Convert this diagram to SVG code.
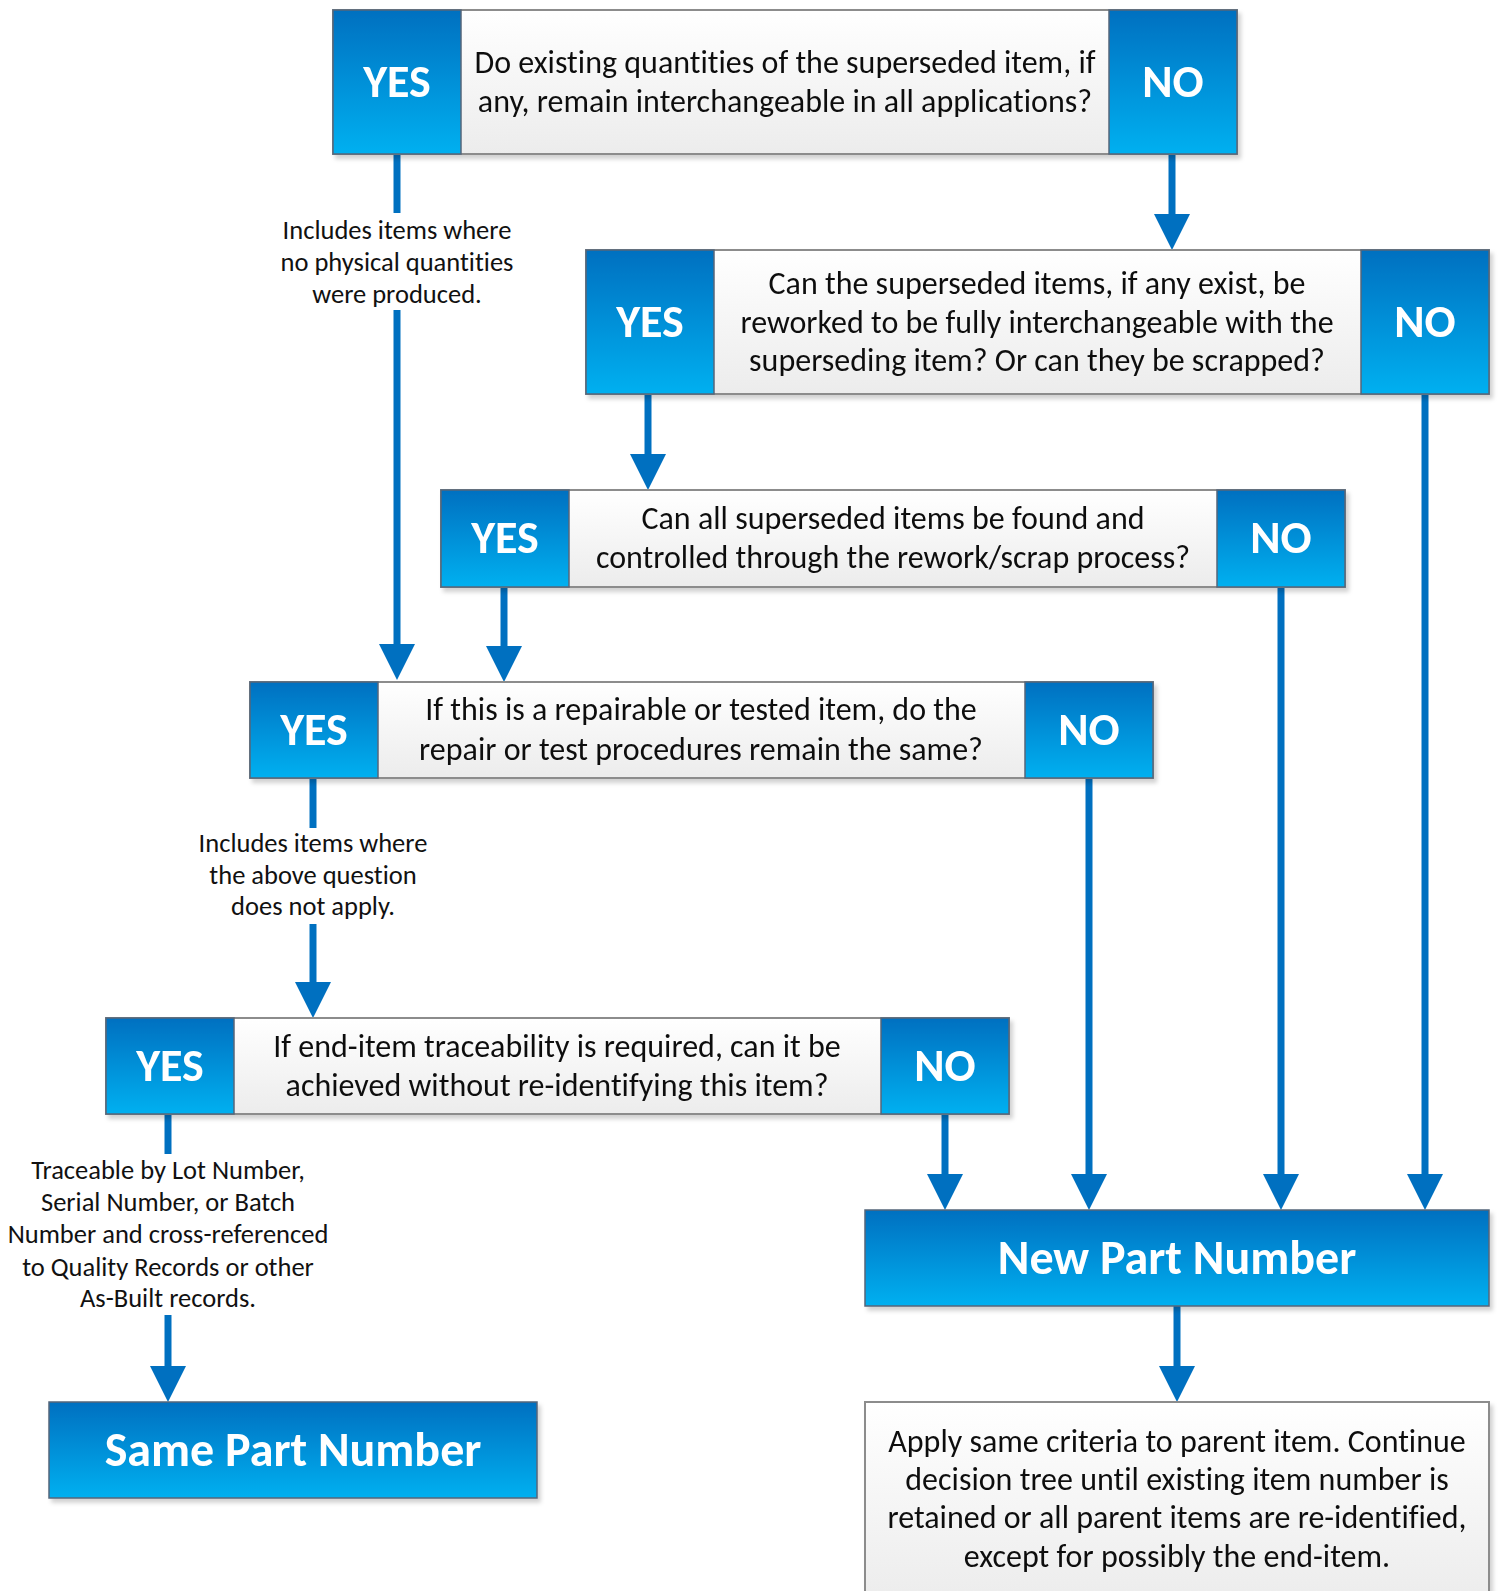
<svg xmlns="http://www.w3.org/2000/svg" width="1499" height="1591" viewBox="0 0 1499 1591">
<defs>
<linearGradient id="gBlue" x1="0" y1="0" x2="0" y2="1"><stop offset="0" stop-color="#0070c0"/><stop offset="1" stop-color="#00b0f0"/></linearGradient>
<linearGradient id="gGray" x1="0" y1="0" x2="0" y2="1"><stop offset="0" stop-color="#ffffff"/><stop offset="1" stop-color="#ececec"/></linearGradient>
<filter id="sh" x="-5%" y="-10%" width="110%" height="130%"><feDropShadow dx="3" dy="4" stdDeviation="2" flood-color="#000" flood-opacity="0.18"/></filter>
<marker id="ah" markerUnits="userSpaceOnUse" markerWidth="36" markerHeight="36" refX="0" refY="18" orient="auto" overflow="visible"><path d="M0,0 L36,18 L0,36 z" fill="#0070c0"/></marker>
<style>
text{font-variant-ligatures:none;font-family:Carlito,Calibri,Lato,sans-serif;text-anchor:middle}
.tb{fill:url(#gGray);stroke:#8c8c8c;stroke-width:2}
.bb{fill:url(#gBlue);stroke:#56667a;stroke-width:1.5}
.q{font-size:32px;fill:#111}
.yn{font-size:46px;font-weight:bold;fill:#fff}
.big{font-size:48px;font-weight:bold;fill:#fff}
.lb{font-size:26.5px;fill:#111}
.c{fill:none;stroke:#0070c0;stroke-width:7}
</style>
</defs>
<rect width="1499" height="1591" fill="#fff"/>

<g id="connectors">
<path class="c" d="M397,154 V213"/>
<path class="c" d="M397,310 V644" marker-end="url(#ah)"/>
<path class="c" d="M1172,154 V214" marker-end="url(#ah)"/>
<path class="c" d="M648,394 V454" marker-end="url(#ah)"/>
<path class="c" d="M1425,394 V1174" marker-end="url(#ah)"/>
<path class="c" d="M504,587 V646" marker-end="url(#ah)"/>
<path class="c" d="M1281,587 V1174" marker-end="url(#ah)"/>
<path class="c" d="M313,778 V828"/>
<path class="c" d="M313,924 V982" marker-end="url(#ah)"/>
<path class="c" d="M1089,778 V1174" marker-end="url(#ah)"/>
<path class="c" d="M168,1114 V1154"/>
<path class="c" d="M168,1315 V1366" marker-end="url(#ah)"/>
<path class="c" d="M945,1114 V1174" marker-end="url(#ah)"/>
<path class="c" d="M1177,1306 V1366" marker-end="url(#ah)"/>
<text class="lb" x="397" y="239">Includes items where</text>
<text class="lb" x="397" y="271">no physical quantities</text>
<text class="lb" x="397" y="303">were produced.</text>
<text class="lb" x="313" y="852">Includes items where</text>
<text class="lb" x="313" y="884">the above question</text>
<text class="lb" x="313" y="915">does not apply.</text>
<text class="lb" x="168" y="1179">Traceable by Lot Number,</text>
<text class="lb" x="168" y="1211">Serial Number, or Batch</text>
<text class="lb" x="168" y="1243">Number and cross-referenced</text>
<text class="lb" x="168" y="1276">to Quality Records or other</text>
<text class="lb" x="168" y="1307">As-Built records.</text>
</g>

<g id="q1" filter="url(#sh)">
<rect class="tb" x="333" y="10" width="904" height="144"/>
<rect class="bb" x="333" y="10" width="128" height="144"/>
<rect class="bb" x="1109" y="10" width="128" height="144"/>
<text class="yn" x="397" y="97">YES</text>
<text class="yn" x="1173" y="97">NO</text>
<text class="q" x="785" y="73">Do existing quantities of the superseded item, if</text>
<text class="q" x="785" y="112">any, remain interchangeable in all applications?</text>
</g>

<g id="q2" filter="url(#sh)">
<rect class="tb" x="586" y="250" width="903" height="144"/>
<rect class="bb" x="586" y="250" width="128" height="144"/>
<rect class="bb" x="1361" y="250" width="128" height="144"/>
<text class="yn" x="650" y="337">YES</text>
<text class="yn" x="1425" y="337">NO</text>
<text class="q" x="1037" y="294">Can the superseded items, if any exist, be</text>
<text class="q" x="1037" y="333">reworked to be fully interchangeable with the</text>
<text class="q" x="1037" y="371">superseding item? Or can they be scrapped?</text>
</g>

<g id="q3" filter="url(#sh)">
<rect class="tb" x="441" y="490" width="904" height="97"/>
<rect class="bb" x="441" y="490" width="128" height="97"/>
<rect class="bb" x="1217" y="490" width="128" height="97"/>
<text class="yn" x="505" y="553">YES</text>
<text class="yn" x="1281" y="553">NO</text>
<text class="q" x="893" y="529">Can all superseded items be found and</text>
<text class="q" x="893" y="568">controlled through the rework/scrap process?</text>
</g>

<g id="q4" filter="url(#sh)">
<rect class="tb" x="250" y="682" width="903" height="96"/>
<rect class="bb" x="250" y="682" width="128" height="96"/>
<rect class="bb" x="1025" y="682" width="128" height="96"/>
<text class="yn" x="314" y="745">YES</text>
<text class="yn" x="1089" y="745">NO</text>
<text class="q" x="701" y="720">If this is a repairable or tested item, do the</text>
<text class="q" x="701" y="760">repair or test procedures remain the same?</text>
</g>

<g id="q5" filter="url(#sh)">
<rect class="tb" x="106" y="1018" width="903" height="96"/>
<rect class="bb" x="106" y="1018" width="128" height="96"/>
<rect class="bb" x="881" y="1018" width="128" height="96"/>
<text class="yn" x="170" y="1081">YES</text>
<text class="yn" x="945" y="1081">NO</text>
<text class="q" x="557" y="1057">If end-item traceability is required, can it be</text>
<text class="q" x="557" y="1096">achieved without re-identifying this item?</text>
</g>

<g id="newpn" filter="url(#sh)">
<rect class="bb" x="865" y="1210" width="624" height="96"/>
<text class="big" x="1177" y="1274">New Part Number</text>
</g>

<g id="samepn" filter="url(#sh)">
<rect class="bb" x="49" y="1402" width="488" height="96"/>
<text class="big" x="293" y="1466">Same Part Number</text>
</g>

<g id="apply" filter="url(#sh)">
<rect class="tb" x="865" y="1402" width="624" height="200"/>
<text class="q" x="1177" y="1452">Apply same criteria to parent item. Continue</text>
<text class="q" x="1177" y="1490">decision tree until existing item number is</text>
<text class="q" x="1177" y="1528">retained or all parent items are re-identified,</text>
<text class="q" x="1177" y="1567">except for possibly the end-item.</text>
</g>
</svg>
